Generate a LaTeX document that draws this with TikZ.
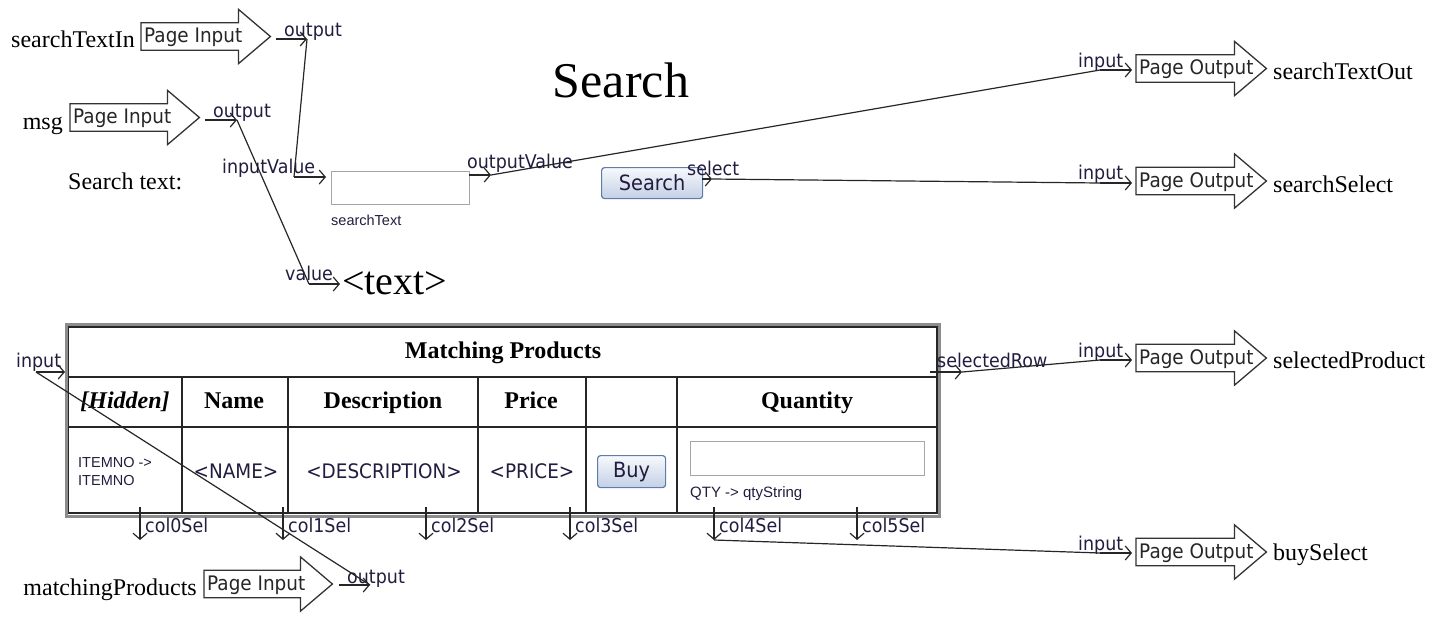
\documentclass[tikz,border=0pt]{standalone}
\usepackage{fontspec}
\setmainfont{Liberation Serif}
\newfontfamily\uifont[FakeStretch=0.92]{DejaVu Sans}
\newfontfamily\smallsans{Liberation Sans}
\usetikzlibrary{arrows.meta,calc}

\definecolor{btnedge}{HTML}{5F7BAA}
\definecolor{btntop}{HTML}{F7F9FC}
\definecolor{btnbot}{HTML}{C3D0E6}
\definecolor{labelink}{HTML}{221C3E}

\tikzset{
  wire/.style={line width=1.2pt, draw=black!85},
  port/.style={wire, -{Straight Barb[length=6pt,width=14pt]}},
  portlbl/.style={font=\uifont\fontsize{19}{19}\selectfont, inner sep=0pt, anchor=base west, text=labelink},
  label24/.style={font=\fontsize{24}{24}\selectfont, inner sep=0pt},
  pagebody/.style={minimum height=27pt, inner sep=0pt, anchor=west},
  pageshape/.style={line width=1.3pt, draw=black!80, fill=white},
  pagetxt/.style={font=\uifont\fontsize{20}{20}\selectfont, inner sep=0pt, anchor=west, text=black!85},
  hdr/.style={font=\bfseries\fontsize{24}{24}\selectfont, inner sep=0pt, anchor=base},
  cell/.style={font=\uifont\fontsize{20}{20}\selectfont, inner sep=0pt, anchor=base, text=labelink},
  tinytxt/.style={font=\smallsans\fontsize{14.5}{14.5}\selectfont, inner sep=0pt, anchor=base west, text=labelink},
  btn/.style={draw=btnedge, line width=1.2pt, rounded corners=3pt, top color=btntop, bottom color=btnbot, inner sep=0pt, text=labelink},
  field/.style={draw=black!35, line width=1.3pt, fill=white, inner sep=0pt},
  grid/.style={line width=1.2pt, draw=black!85},
}

% block arrow: name, left x, centre y, body width, text
\newcommand\pagearrow[5]{%
  \node[pagebody, minimum width=#4] (#1) at (#2,#3) {};
  \coordinate (#1-tip) at ($(#1.east)+(32,0)$);
  \draw[pageshape] (#1.north west) -- (#1.north east) -- ++(0,-13.5) -- (#1-tip)
     -- ($(#1.south east)+(0,13.5)$) -- (#1.south east) -- (#1.south west) -- cycle;
  \node[pagetxt] (#1-txt) at ($(#1.west)+(3,1)$) {#5};
}

\begin{document}
\begin{tikzpicture}[x=1pt,y=-1pt]
\useasboundingbox (0,0) rectangle (1445,622);

% ---------- title ----------
\node[font=\fontsize{50}{50}\selectfont, inner sep=0pt, anchor=base] (title) at (621,97) {Search};

% ---------- page inputs ----------
\node[label24, anchor=base east] (stin) at (135,47) {searchTextIn};
\pagearrow{pi1}{141}{36.5}{97}{Page Input}
\node[label24, anchor=base east] (msg) at (63,129) {msg};
\pagearrow{pi2}{70}{117.5}{97}{Page Input}
\node[label24, anchor=base east] (mprod) at (197,595) {matchingProducts};
\pagearrow{pi3}{204}{584}{96}{Page Input}

\coordinate (pi1-o0) at (276,39);  \coordinate (pi1-o) at (307,39);
\draw[port] (pi1-o0) -- (pi1-o);
\node[portlbl] (pi1-ol) at (284,36) {output};

\coordinate (pi2-o0) at (205,120); \coordinate (pi2-o) at (237,120);
\draw[port] (pi2-o0) -- (pi2-o);
\node[portlbl] (pi2-ol) at (213,117) {output};

\coordinate (pi3-o0) at (339,585); \coordinate (pi3-o) at (370,585);
\draw[port] (pi3-o0) -- (pi3-o);
\node[portlbl] (pi3-ol) at (347,583) {output};

% ---------- search form ----------
\node[label24, anchor=base west] (stlabel) at (68,189) {Search text:};
\node[field, minimum width=138pt, minimum height=33pt, anchor=north west] (stbox) at (331,171) {};
\node[tinytxt] (stname) at (331,225) {searchText};
\node[btn, minimum width=101pt, minimum height=31pt, anchor=north west,
      font=\uifont\fontsize{21}{21}\selectfont] (sbtn) at (601,167) {Search};
\node[font=\fontsize{40}{40}\selectfont, inner sep=0pt, anchor=base west] (txt) at (342,294) {<text>};

\coordinate (iv0) at (294,177); \coordinate (iv) at (326,177);
\draw[port] (iv0) -- (iv);
\node[portlbl] (ivl) at (222,173) {inputValue};

\coordinate (ov0) at (469,175); \coordinate (ov) at (491,175);
\draw[port] (ov0) -- (ov);
\node[portlbl] (ovl) at (467,168) {outputValue};

\coordinate (sel0) at (702,179); \coordinate (sel) at (712,179);
\draw[port] (sel0) -- (sel);
\node[portlbl] (sell) at (687,175) {select};

\coordinate (val0) at (309,284); \coordinate (val) at (340,284);
\draw[port] (val0) -- (val);
\node[portlbl] (vall) at (285,280) {value};

% ---------- page outputs ----------
\pagearrow{po1}{1136}{68.5}{98}{Page Output}
\pagearrow{po2}{1136}{181}{98}{Page Output}
\pagearrow{po3}{1136}{358}{98}{Page Output}
\pagearrow{po4}{1136}{552}{98}{Page Output}
\node[label24, anchor=base west] (stout) at (1273,79) {searchTextOut};
\node[label24, anchor=base west] (ssel) at (1273,192) {searchSelect};
\node[label24, anchor=base west] (sprod) at (1273,368) {selectedProduct};
\node[label24, anchor=base west] (bsel) at (1273,560) {buySelect};

\foreach \n/\y/\b in {1/70/67, 2/183/179, 3/360/357, 4/553/550}{
  \coordinate (in\n-0) at (1100,\y);
  \coordinate (in\n) at (1132,\y);
  \draw[port] (in\n-0) -- (in\n);
  \node[portlbl] (in\n-l) at (1078,\b) {input};
}

% ---------- product table ----------
\draw[line width=3pt, draw=black!45] (66.5,324.5) rectangle (939,516);
\draw[grid] (68.5,327) rectangle (937,513);
\draw[grid] (68.5,377) -- (937,377);
\draw[grid] (68.5,427) -- (937,427);
\foreach \x in {182,288,478,586,677}{ \draw[grid] (\x,377) -- (\x,513); }

\node[hdr] (thead) at (503,358) {Matching Products};
\node[hdr, font=\bfseries\itshape\fontsize{24}{24}\selectfont] (h0) at (125,408) {[Hidden]};
\node[hdr] (h1) at (234,408) {Name};
\node[hdr] (h2) at (383,408) {Description};
\node[hdr] (h3) at (531,408) {Price};
\node[hdr] (h5) at (807,408) {Quantity};

\node[tinytxt] (d0a) at (78,467) {ITEMNO ->};
\node[tinytxt] (d0b) at (78,485) {ITEMNO};
\node[cell] (d1) at (236,478) {<NAME>};
\node[cell] (d2) at (384,478) {<DESCRIPTION>};
\node[cell] (d3) at (532,478) {<PRICE>};
\node[btn, minimum width=68pt, minimum height=32pt, anchor=north west,
      font=\uifont\fontsize{21}{21}\selectfont] (buy) at (597,455) {Buy};
\node[field, minimum width=234pt, minimum height=34pt, anchor=north west] (qty) at (690,441) {};
\node[tinytxt, font=\smallsans\fontsize{15}{15}\selectfont] (qtyl) at (690,497) {QTY -> qtyString};

% table ports
\coordinate (tin0) at (36,372); \coordinate (tin) at (65,372);
\draw[port] (tin0) -- (tin);
\node[portlbl] (tinl) at (16,367) {input};

\coordinate (srow0) at (930,372); \coordinate (srow) at (962,372);
\draw[port] (srow0) -- (srow);
\node[portlbl] (srowl) at (937,367) {selectedRow};

\foreach \i/\x in {0/140,1/283,2/426,3/570,4/714,5/857}{
  \coordinate (c\i-0) at (\x,507);
  \coordinate (c\i) at (\x,540);
  \draw[port] (c\i-0) -- (c\i);
  \node[portlbl] (c\i-l) at (\x+5,532) {col\i Sel};
}

% ---------- connectors ----------
\draw[wire] (pi1-o) -- (iv0);
\draw[wire] (pi2-o) -- (val0);
\draw[wire] (ov) -- (in1-0);
\draw[wire] (sel) -- (in2-0);
\draw[wire] (pi3-o) -- (tin0);
\draw[wire] (srow) -- (in3-0);
\draw[wire] (c4) -- (in4-0);

\end{tikzpicture}
\end{document}
